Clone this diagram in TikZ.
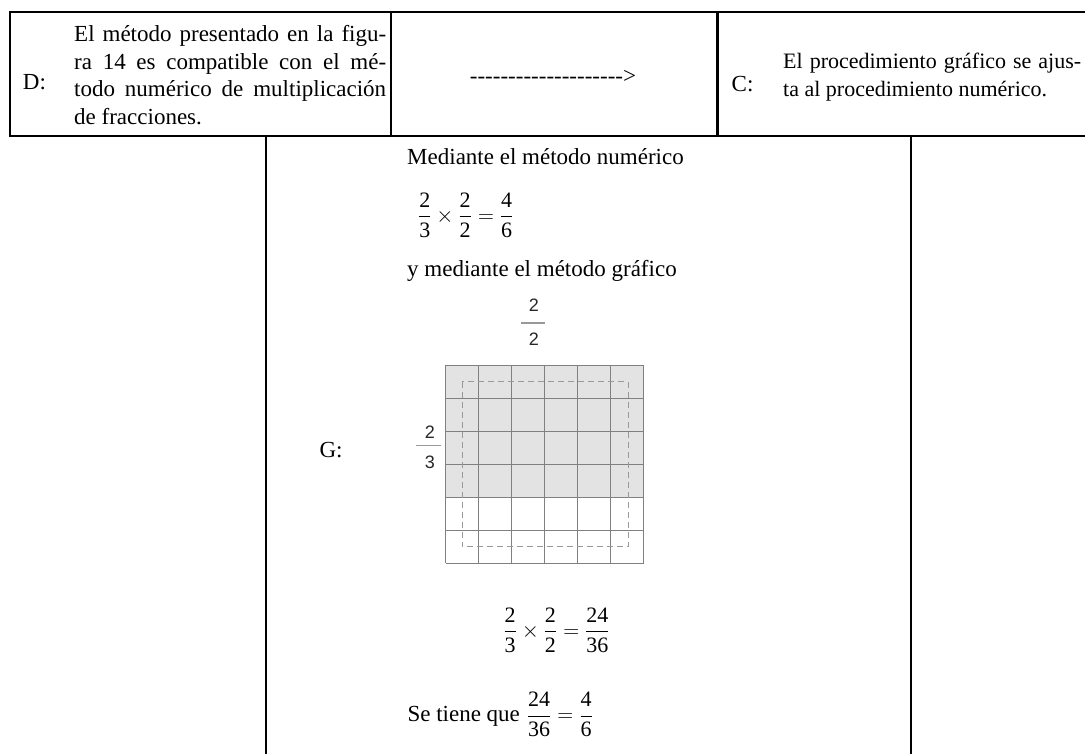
\documentclass[tikz,border=0pt]{standalone}
\usepackage{fix-cm}
\usepackage{amsmath}
\usepackage{fontspec}
\setmainfont{Liberation Serif}
\newfontfamily\labelfont{Liberation Sans}
\usetikzlibrary{positioning}

\newcommand{\frc}[2]{\dfrac{\mbox{#1}}{\mbox{#2}}}
\newcommand{\dashrun}{\foreach \k in {1,...,20}{-\kern0pt}>}

\begin{document}
\begin{tikzpicture}[
    x=1pt, y=-1pt,
    tabline/.style={line width=2.2pt, line cap=rect},
    txt/.style={font=\fontsize{23}{28}\selectfont, inner sep=0pt},
    ctxt/.style={font=\fontsize{22}{28}\selectfont, inner sep=0pt},
    eqn/.style={font=\fontsize{22}{26}\selectfont, inner sep=0pt},
    frlab/.style={font=\labelfont\fontsize{18}{20}\selectfont, text=black!85, inner sep=0pt},
    cellgrid/.style={draw=black!50, line width=1pt},
    frbar/.style={draw=black!40, line width=1.5pt},
]
\useasboundingbox (0,0) rectangle (1085,754);

\draw[tabline] (1095,12) -- (10,12) -- (10,136) -- (1095,136);
\draw[tabline] (391,12) -- (391,136);
\draw[tabline] (717.5,12) -- (717.5,136);
\draw[tabline] (265.7,136) -- (265.7,760);
\draw[tabline] (910.7,136) -- (910.7,760);

\node[txt, anchor=base west] (dlab) at (22.7,89.3) {D:};
\node[txt, anchor=base west] (d1) at (74,41.5) {\makebox[312pt][s]{El método presentado en la figu-}};
\node[txt, anchor=base west] (d2) at (74,69.3) {\makebox[312pt][s]{ra 14 es compatible con el mé-}};
\node[txt, anchor=base west] (d3) at (74,97) {\makebox[312pt][s]{todo numérico de multiplicación}};
\node[txt, anchor=base west] (d4) at (74,124.8) {de fracciones.};

\node[txt, anchor=base] (arrtxt) at (553,84) {\dashrun};

\node[txt, anchor=base west] (clab) at (731.5,92) {C:};
\node[ctxt, anchor=base west] (c1) at (783,68.5) {\makebox[298pt][s]{El procedimiento gráfico se ajus-}};
\node[ctxt, anchor=base west] (c2) at (783,96.5) {ta al procedimiento numérico.};

\node[txt, anchor=base west] (m1) at (407,165) {Mediante el método numérico};
\node[eqn, anchor=base west] (eq1) at (418,222.2) {$\frc{2}{3}\times\frc{2}{2}=\frc{4}{6}$};
\node[txt, anchor=base west] (m2) at (407,276.7) {y mediante el método gráfico};

\node[frlab] (topnum) at (534,305) {2};
\draw[frbar] (521,323) -- (545,323);
\node[frlab] (topden) at (534,339.7) {2};

\node[frlab] (leftnum) at (430,432) {2};
\draw[frbar] (415.7,445.7) -- (440.7,445.7);
\node[frlab] (leftden) at (430,462.3) {3};

\fill[black!11] (445.7,365) rectangle (643.7,497);
\foreach \i in {0,...,6} {
    \draw[cellgrid] (445.7+33*\i,365) -- (445.7+33*\i,563);
    \draw[cellgrid] (445.7,365+33*\i) -- (643.7,365+33*\i);
}
\draw[black!40, line width=1pt, dash pattern=on 6pt off 4pt] (462,381.5) rectangle (628,546.5);

\node[txt, anchor=base west] (glab) at (319.3,457.3) {G:};

\node[eqn, anchor=base west] (eq2) at (503.3,637.2) {$\frc{2}{3}\times\frc{2}{2}=\frc{24}{36}$};
\node[txt, anchor=base west] (eq3) at (407.3,721.7) {Se tiene que\hspace{7pt}{\fontsize{22}{26}\selectfont$\frc{24}{36}=\frc{4}{6}$}};
\end{tikzpicture}
\end{document}
